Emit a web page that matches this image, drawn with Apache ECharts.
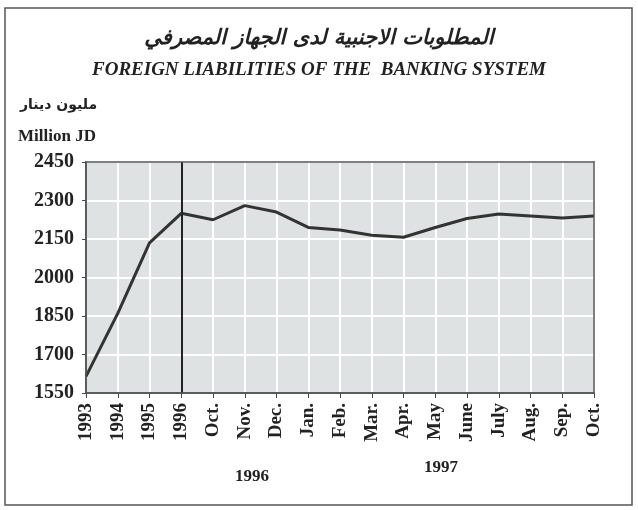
<!DOCTYPE html>
<html>
<head>
<meta charset="utf-8">
<script src="https://cdn.jsdelivr.net/npm/echarts@6/dist/echarts.min.js"></script>
<style>
  html, body { margin: 0; padding: 0; background: #fff; }
  #graph { width: 638px; height: 510px; }
</style>
</head>
<body>
<div id="graph"></div>
<script>
var months = ['1993', '1994', '1995', '1996', 'Oct.', 'Nov.', 'Dec.', 'Jan.', 'Feb.', 'Mar.',
              'Apr.', 'May', 'June', 'July', 'Aug.', 'Sep.', 'Oct.']
var liabilities = [1615, 1860, 2135, 2250, 2225, 2280, 2255, 2195, 2185, 2165,
                   2157, 2195, 2230, 2247, 2240, 2232, 2240]
var yearLabels = ['1996', '1997']
var serif = '"Liberation Serif", "DejaVu Serif", serif'

var chart = echarts.init(document.getElementById('graph'))
var option = {
    animation: false,
    backgroundColor: '#fff',
    graphic: [
        { type: 'rect', shape: { x: 5, y: 8, width: 627, height: 497 },
          style: { fill: 'none', stroke: '#555', lineWidth: 1.5 } },
        { type: 'rect', z: 100, shape: { x: 86, y: 162, width: 508, height: 231 },
          style: { fill: 'none', stroke: '#555', lineWidth: 1.5 } },
        { type: 'text', left: 'center', top: 28,
          style: { text: 'المطلوبات الاجنبية لدى الجهاز المصرفي', font: 'italic bold 21px "DejaVu Sans"', fill: '#222' } },
        { type: 'text', left: 'center', top: 61,
          style: { text: 'FOREIGN LIABILITIES OF THE  BANKING SYSTEM', font: 'italic bold 19px ' + serif, fill: '#222' } },
        { type: 'text', left: 20, top: 98,
          style: { text: 'مليون دينار', font: 'bold 14px "DejaVu Sans"', fill: '#222' } },
        { type: 'text', left: 18, top: 128,
          style: { text: 'Million JD', font: 'bold 17px ' + serif, fill: '#222' } },
        { type: 'text', left: 235, top: 468,
          style: { text: yearLabels[0], font: 'bold 17px ' + serif, fill: '#222' } },
        { type: 'text', left: 424, top: 459,
          style: { text: yearLabels[1], font: 'bold 17px ' + serif, fill: '#222' } }
    ],
    grid: {
        left: 86, right: 44, top: 162, bottom: 117,
        show: true, backgroundColor: '#dfe2e2', borderColor: '#555', borderWidth: 1.5
    },
    xAxis: {
        type: 'category',
        boundaryGap: false,
        data: months,
        axisLine: { lineStyle: { color: '#444', width: 1.5 } },
        axisTick: { show: true, inside: false, length: 5, lineStyle: { color: '#444' } },
        axisLabel: { rotate: 90, color: '#222', fontFamily: serif, fontWeight: 'bold', fontSize: 19, margin: 10 },
        splitLine: { show: true, lineStyle: { color: '#fff', width: 2 } }
    },
    yAxis: {
        type: 'value',
        min: 1550, max: 2450, interval: 150,
        axisLine: { show: true, lineStyle: { color: '#444', width: 1.5 } },
        axisTick: { show: true, length: 4, lineStyle: { color: '#444' } },
        axisLabel: { color: '#222', fontFamily: serif, fontWeight: 'bold', fontSize: 20, margin: 12,
                     formatter: function (v) { return String(v) } },
        splitLine: { show: true, lineStyle: { color: '#fff', width: 2 } }
    },
    series: [{
        type: 'line',
        data: liabilities,
        symbol: 'none',
        lineStyle: { color: '#333', width: 3 },
        markLine: {
            silent: true,
            symbol: 'none',
            label: { show: false },
            lineStyle: { color: '#222', width: 2, type: 'solid' },
            data: [{ xAxis: '1996' }]
        }
    }]
}
chart.setOption(option)
</script>
</body>
</html>
